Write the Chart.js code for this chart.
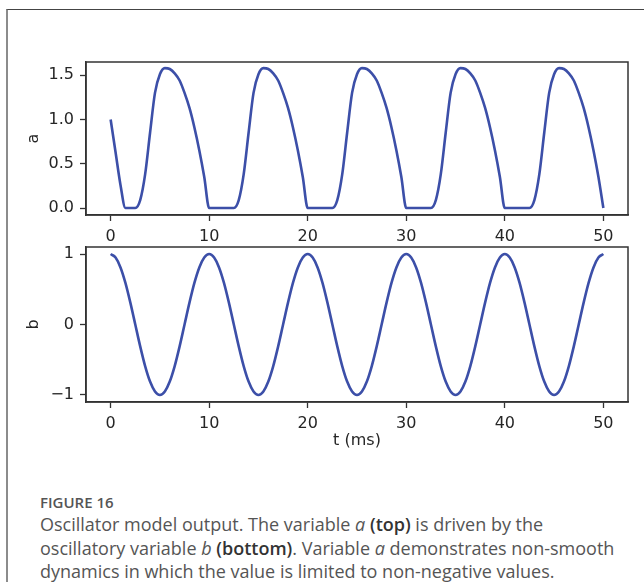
<!DOCTYPE html>
<html>
<head>
<meta charset="utf-8">
<script src="https://cdn.jsdelivr.net/npm/chart.js@4.4.1/dist/chart.umd.min.js"></script>
<style>
  body { margin: 0; background: #fff; }
  #page { position: relative; width: 644px; height: 582px; overflow: hidden; }
  #frame { position: absolute; left: 6px; top: 9px; width: 660px; height: 600px;
           border-top: 1px solid #444; border-left: 2px solid #8c8c8c; }
  canvas { position: absolute; left: 0; }
  #topChart { top: 0; }
  #bottomChart { top: 230px; }
  .fig { position: absolute; left: 40px; top: 494px; font: 600 15px "Open Sans"; color: #555; line-height: 16px; }
  .cap { position: absolute; left: 40px; top: 513px; font: 18px "Open Sans"; color: #555;
         line-height: 23.5px; white-space: nowrap; }
  .cap b { color: #333; font-weight: 600; }
</style>
</head>
<body>
<div id="page">
  <div id="frame"></div>
  <canvas id="topChart" width="644" height="250"></canvas>
  <canvas id="bottomChart" width="644" height="230"></canvas>
  <div class="fig">FIGURE 16</div>
  <div class="cap">
    Oscillator model output. The variable <i>a</i> <b>(top)</b> is driven by the<br>
    oscillatory variable <i>b</i> <b>(bottom)</b>. Variable <i>a</i> demonstrates non-smooth<br>
    dynamics in which the value is limited to non-negative values.
  </div>
</div>
<script>
// time axis (ms)
const times = [
  0, 0.5, 1, 1.5, 2, 2.5, 3, 3.5, 4, 4.5, 5, 5.5, 6, 6.5, 7, 7.5, 8, 8.5, 9, 9.5,
  10, 10.5, 11, 11.5, 12, 12.5, 13, 13.5, 14, 14.5, 15, 15.5, 16, 16.5, 17, 17.5, 18, 18.5, 19, 19.5,
  20, 20.5, 21, 21.5, 22, 22.5, 23, 23.5, 24, 24.5, 25, 25.5, 26, 26.5, 27, 27.5, 28, 28.5, 29, 29.5,
  30, 30.5, 31, 31.5, 32, 32.5, 33, 33.5, 34, 34.5, 35, 35.5, 36, 36.5, 37, 37.5, 38, 38.5, 39, 39.5,
  40, 40.5, 41, 41.5, 42, 42.5, 43, 43.5, 44, 44.5, 45, 45.5, 46, 46.5, 47, 47.5, 48, 48.5, 49, 49.5,
  50
];

// variable a (top panel)
const aValues = [
  1.00, 0.63, 0.26, 0, 0, 0, 0.09, 0.38, 0.85, 1.30, 1.51, 1.58, 1.57, 1.52, 1.44, 1.30, 1.13, 0.91, 0.65, 0.35,
  0, 0, 0, 0, 0, 0, 0.09, 0.38, 0.85, 1.30, 1.51, 1.58, 1.57, 1.52, 1.44, 1.30, 1.13, 0.91, 0.65, 0.35,
  0, 0, 0, 0, 0, 0, 0.09, 0.38, 0.85, 1.30, 1.51, 1.58, 1.57, 1.52, 1.44, 1.30, 1.13, 0.91, 0.65, 0.35,
  0, 0, 0, 0, 0, 0, 0.09, 0.38, 0.85, 1.30, 1.51, 1.58, 1.57, 1.52, 1.44, 1.30, 1.13, 0.91, 0.65, 0.35,
  0, 0, 0, 0, 0, 0, 0.09, 0.38, 0.85, 1.30, 1.51, 1.58, 1.57, 1.52, 1.44, 1.30, 1.13, 0.91, 0.65, 0.35,
  0
];

// oscillatory variable b (bottom panel)
const bValues = [
  1.00, 0.95, 0.81, 0.59, 0.31, 0, -0.31, -0.59, -0.81, -0.95, -1.00, -0.95, -0.81, -0.59, -0.31, 0, 0.31, 0.59, 0.81, 0.95,
  1.00, 0.95, 0.81, 0.59, 0.31, 0, -0.31, -0.59, -0.81, -0.95, -1.00, -0.95, -0.81, -0.59, -0.31, 0, 0.31, 0.59, 0.81, 0.95,
  1.00, 0.95, 0.81, 0.59, 0.31, 0, -0.31, -0.59, -0.81, -0.95, -1.00, -0.95, -0.81, -0.59, -0.31, 0, 0.31, 0.59, 0.81, 0.95,
  1.00, 0.95, 0.81, 0.59, 0.31, 0, -0.31, -0.59, -0.81, -0.95, -1.00, -0.95, -0.81, -0.59, -0.31, 0, 0.31, 0.59, 0.81, 0.95,
  1.00, 0.95, 0.81, 0.59, 0.31, 0, -0.31, -0.59, -0.81, -0.95, -1.00, -0.95, -0.81, -0.59, -0.31, 0, 0.31, 0.59, 0.81, 0.95,
  1.00
];

const xTicks = [0, 10, 20, 30, 40, 50];
const aTicks = [0, 0.5, 1.0, 1.5];
const bTicks = [-1, 0, 1];

const lineColor = "#3c4fa8";
const axisColor = "#333333";
const textColor = "#262626";
const tickFont = { family: "DejaVu Sans", size: 16 };

// draws the top and right spines too, like a matplotlib axes box
const boxPlugin = {
  id: "box",
  afterDraw(chart) {
    const { ctx, chartArea: a } = chart;
    ctx.save();
    ctx.strokeStyle = axisColor;
    ctx.lineWidth = 1.5;
    ctx.strokeRect(a.left, a.top, a.right - a.left, a.bottom - a.top);
    ctx.restore();
  }
};

function makePanel(id, values, yTicks, yMin, yMax, yTitle, yFmt, xTitle, padTop, xHeight) {
  return new Chart(document.getElementById(id), {
    type: "line",
    data: {
      datasets: [{
        data: times.map((t, i) => ({ x: t, y: values[i] })),
        borderColor: lineColor,
        borderWidth: 2.6,
        pointRadius: 0,
        cubicInterpolationMode: "monotone",
        fill: false
      }]
    },
    options: {
      responsive: false,
      animation: false,
      devicePixelRatio: 1,
      layout: { padding: { top: padTop, right: 16, left: 0, bottom: 0 } },
      plugins: { legend: { display: false }, tooltip: { enabled: false } },
      scales: {
        x: {
          type: "linear",
          min: -2.5,
          max: 52.5,
          afterBuildTicks: s => { s.ticks = xTicks.map(v => ({ value: v })); },
          afterFit: s => { s.height = xHeight; },
          ticks: { font: tickFont, color: textColor, padding: 6, maxRotation: 0 },
          grid: { drawOnChartArea: false, drawTicks: true, tickLength: 6, tickColor: axisColor, tickWidth: 1.3 },
          border: { display: true, color: axisColor, width: 1.5 },
          title: {
            display: !!xTitle, text: xTitle, color: textColor,
            font: tickFont, padding: { top: 0, bottom: 10 }
          }
        },
        y: {
          min: yMin,
          max: yMax,
          afterBuildTicks: s => { s.ticks = yTicks.map(v => ({ value: v })); },
          afterFit: s => { s.width = 86; },
          ticks: { font: tickFont, color: textColor, padding: 6, callback: yFmt },
          grid: { drawOnChartArea: false, drawTicks: true, tickLength: 6, tickColor: axisColor, tickWidth: 1.3 },
          border: { display: true, color: axisColor, width: 1.5 },
          title: {
            display: true, text: yTitle, color: textColor,
            font: tickFont, padding: { top: 24, bottom: 0 }
          }
        }
      }
    },
    plugins: [boxPlugin]
  });
}

makePanel("topChart", aValues, aTicks, -0.079, 1.649, "a",
  v => v.toFixed(1), "", 62, 35);

makePanel("bottomChart", bValues, bTicks, -1.1, 1.1, "b",
  v => (v < 0 ? "\u2212" + Math.abs(v) : String(v)), "t (ms)", 17, 58);
</script>
</body>
</html>
